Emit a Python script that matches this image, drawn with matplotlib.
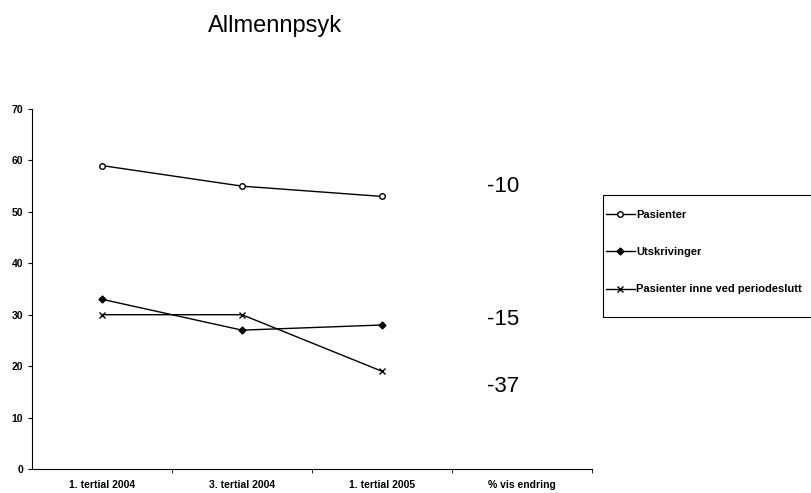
import matplotlib.pyplot as plt
from matplotlib.patches import Rectangle

plt.rcParams['font.family'] = ['Liberation Sans', 'DejaVu Sans']

categories = ['1. tertial 2004', '3. tertial 2004', '1. tertial 2005', '% vis endring']
pasienter = [59, 55, 53]
utskrivinger = [33, 27, 28]
inne = [30, 30, 19]
endring = ['-10', '-15', '-37']
endring_y = [55, 29, 16]

fig = plt.figure(figsize=(8.12, 4.93), dpi=100)
ax = fig.add_axes([32 / 812, 1 - 469 / 493, 560 / 812, 360 / 493])

x = range(len(pasienter))
ax.plot(x, pasienter, color='black', lw=1, marker='o', ms=4, mfc='white', mec='black',
        label='Pasienter')
ax.plot(x, utskrivinger, color='black', lw=1, marker='D', ms=3.5, label='Utskrivinger')
ax.plot(x, inne, color='black', lw=1, marker='x', ms=5, mew=1,
        label='Pasienter inne ved periodeslutt')

# prosentvis endring skrives i siste kolonne
for txt, yv in zip(endring, endring_y):
    ax.text(2.75, yv, txt, fontsize=16, va='center', ha='left')

ax.set_xlim(-0.5, 3.5)
ax.set_ylim(0, 70)
ax.set_yticks(range(0, 71, 10))
ax.set_xticks([0, 1, 2, 3])
ax.set_xticklabels(categories, fontsize=7.5, fontweight='bold')
ax.set_xticks([0.5, 1.5, 2.5, 3.5], minor=True)
ax.tick_params(axis='x', which='major', length=0, pad=8)
ax.tick_params(axis='x', which='minor', length=3, direction='out')
ax.tick_params(axis='y', length=3, labelsize=7.5)
for lbl in ax.get_yticklabels():
    lbl.set_fontweight('bold')
ax.spines['top'].set_visible(False)
ax.spines['right'].set_visible(False)

fig.text(275 / 812, 1 - 32 / 493, 'Allmennpsyk', fontsize=17, ha='center', va='baseline')

# legenden går ut over kanten på høyre side
fig.patches.append(Rectangle((603 / 812, 1 - 317 / 493), 250 / 812, 122 / 493,
                             transform=fig.transFigure, fill=False, edgecolor='black',
                             lw=0.8))
leg = fig.legend(loc='upper left', bbox_to_anchor=(606 / 812, 1 - 210 / 493),
                 prop={'size': 8, 'weight': 'bold'}, frameon=False,
                 handlelength=2.6, handletextpad=0.1, labelspacing=2.45,
                 borderpad=0, borderaxespad=0)

fig.savefig('out.png', dpi=100)
